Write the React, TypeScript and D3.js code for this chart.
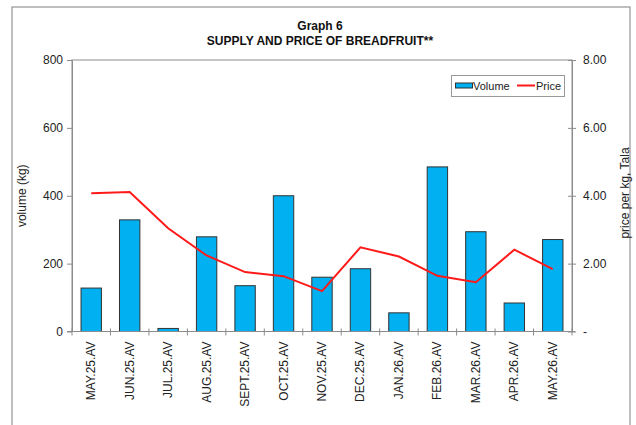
import * as d3 from 'd3';
import React, { useEffect, useRef } from 'react';

const categories = ['MAY.25.AV', 'JUN.25.AV', 'JUL.25.AV', 'AUG.25.AV', 'SEPT.25.AV', 'OCT.25.AV', 'NOV.25.AV', 'DEC.25.AV', 'JAN.26.AV', 'FEB.26.AV', 'MAR.26.AV', 'APR.26.AV', 'MAY.26.AV'];
const volume = [128, 329, 9, 279, 135, 400, 160, 185, 55, 485, 294, 84, 271];
const price = [4.07, 4.11, 3.04, 2.24, 1.75, 1.63, 1.19, 2.48, 2.21, 1.64, 1.45, 2.41, 1.84];
const volumeTicks = [0, 200, 400, 600, 800];
const priceTicks = [0, 2, 4, 6, 8];

const FONT = '"Liberation Sans", Arial, sans-serif';

const App = () => {
  const ref = useRef<SVGSVGElement | null>(null);

  useEffect(() => {
    if (!ref.current) return;
    const svg = d3.select(ref.current);
    svg.selectAll('*').remove();

    const left = 72, right = 572, top = 60, bottom = 331.5;
    const axisColor = '#8c8c8c';

    // chart frame
    svg.append('rect').attr('x', 12).attr('y', 7).attr('width', 618).attr('height', 430).attr('fill', 'white').attr('stroke', '#808080').attr('stroke-width', 1);

    const x = d3.scaleBand().domain(categories).range([left, right]).paddingInner(0.47).paddingOuter(0.235);
    const yL = d3.scaleLinear().domain([0, 800]).range([bottom, top]);
    const yR = d3.scaleLinear().domain([0, 8]).range([bottom, top]);

    // title
    const title = svg.append('g').attr('font-family', FONT).attr('font-weight', 'bold').attr('font-size', 12).attr('fill', '#111').attr('text-anchor', 'middle');
    title.append('text').attr('x', 320).attr('y', 30).text('Graph 6');
    title.append('text').attr('x', 320).attr('y', 45).text('SUPPLY AND PRICE OF BREADFRUIT**');

    // plot box
    svg.append('rect').attr('x', left).attr('y', top).attr('width', right - left).attr('height', bottom - top).attr('fill', 'none').attr('stroke', axisColor).attr('stroke-width', 1);

    // bars
    svg.append('g').selectAll('rect').data(volume).enter().append('rect')
      .attr('x', (d, i) => x(categories[i]))
      .attr('y', (d) => yL(d))
      .attr('width', x.bandwidth())
      .attr('height', (d) => yL(0) - yL(d))
      .attr('fill', '#00b0f0')
      .attr('stroke', '#333')
      .attr('stroke-width', 1);

    // price line
    const line = d3.line<number>().x((d, i) => x(categories[i]) + x.bandwidth() / 2).y((d) => yR(d));
    svg.append('path').datum(price).attr('d', line).attr('fill', 'none').attr('stroke', '#ff1a1a').attr('stroke-width', 2);

    // left axis
    const la = svg.append('g').attr('transform', `translate(${left},0)`)
      .call(d3.axisLeft(yL).tickValues(volumeTicks).tickSize(5).tickSizeOuter(0).tickFormat(d3.format('d')));
    la.select('.domain').attr('stroke', axisColor);
    la.selectAll('.tick line').attr('stroke', axisColor);
    la.selectAll('.tick text').attr('font-family', FONT).attr('font-size', 12).attr('fill', '#222').attr('x', -9);

    // right axis
    const ra = svg.append('g').attr('transform', `translate(${right},0)`)
      .call(d3.axisRight(yR).tickValues(priceTicks).tickSize(4).tickSizeOuter(0).tickFormat((d) => (d === 0 ? '-' : d3.format('.2f')(d))));
    ra.select('.domain').attr('stroke', axisColor);
    ra.selectAll('.tick line').attr('stroke', axisColor).attr('x1', -4);
    ra.selectAll('.tick text').attr('font-family', FONT).attr('font-size', 12).attr('fill', '#222').attr('x', 11);

    // x axis
    const xa = svg.append('g').attr('transform', `translate(0,${bottom})`);
    xa.append('line').attr('x1', left - 5).attr('x2', right + 3).attr('stroke', axisColor);
    const step = x.step();
    d3.range(categories.length + 1).forEach((i) => {
      const px = left + i * step;
      xa.append('line').attr('x1', px).attr('x2', px).attr('y1', -3).attr('y2', 4).attr('stroke', axisColor);
    });
    xa.selectAll('text.cat').data(categories).enter().append('text')
      .attr('class', 'cat')
      .attr('transform', (d) => `translate(${x(d) + x.bandwidth() / 2 + 4},10) rotate(-90)`)
      .attr('text-anchor', 'end')
      .attr('font-family', FONT).attr('font-size', 12).attr('fill', '#222')
      .text((d) => d);

    // axis titles
    svg.append('text').attr('transform', `translate(26,${(top + bottom) / 2}) rotate(-90)`).attr('text-anchor', 'middle')
      .attr('font-family', FONT).attr('font-size', 12).attr('fill', '#222').text('volume (kg)');
    svg.append('text').attr('transform', `translate(629,193) rotate(-90)`).attr('text-anchor', 'middle')
      .attr('font-family', FONT).attr('font-size', 12).attr('fill', '#222').text('price per kg, Tala');

    // legend
    const lg = svg.append('g').attr('font-family', FONT).attr('font-size', 11).attr('fill', '#222');
    lg.append('rect').attr('x', 451.5).attr('y', 75.5).attr('width', 113).attr('height', 21).attr('fill', 'white').attr('stroke', '#999');
    lg.append('rect').attr('x', 455.5).attr('y', 83).attr('width', 17).attr('height', 5).attr('fill', '#00b0f0').attr('stroke', '#333');
    lg.append('text').attr('x', 473).attr('y', 90).text('Volume');
    lg.append('line').attr('x1', 517).attr('x2', 535).attr('y1', 85.5).attr('y2', 85.5).attr('stroke', '#ff1a1a').attr('stroke-width', 2);
    lg.append('text').attr('x', 536).attr('y', 90).text('Price');
  }, []);

  return <svg ref={ref} width={636} height={425} style={{ position: 'absolute', left: 0, top: 0, background: 'white' }} />;
};

export default App;
